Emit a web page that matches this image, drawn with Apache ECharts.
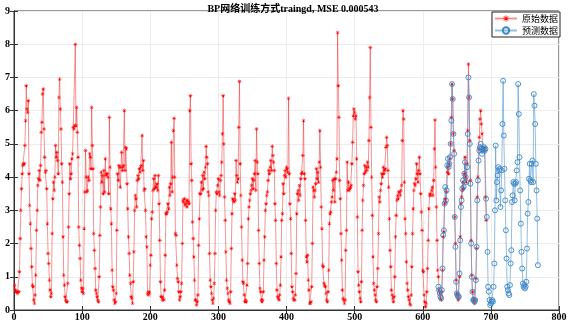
<!DOCTYPE html>
<html><head><meta charset="utf-8">
<script src="https://cdn.jsdelivr.net/npm/echarts@6/dist/echarts.min.js"></script>
<style>html,body{margin:0;padding:0;background:#fff}#c{width:570px;height:322px}</style>
</head><body><div id="c"></div>
<script>
const titleText = 'BP网络训练方式traingd, MSE 0.000543';
const seriesNames = ['原始数据', '预测数据'];
const xTicks = [0, 100, 200, 300, 400, 500, 600, 700, 800];
const yTicks = [0, 1, 2, 3, 4, 5, 6, 7, 8, 9];
// original data, x = 1..693
const redY = [
0.75,0.6,0.55,0.55,0.5,0.55,0.55,1.15,2.15,3.0,3.65,4.1,4.35,4.4,4.4,4.95,5.7,6.75,6.05,5.95,6.3,4.1,3.15,2.6,
1.85,1.3,0.75,0.7,0.3,0.2,0.45,1.05,2.4,3.0,3.75,3.95,4.2,3.9,4.35,5.35,5.65,6.5,6.65,5.45,4.6,4.15,4.2,3.65,
2.6,1.7,1.4,0.9,0.6,0.4,0.5,2.3,3.35,3.85,3.6,4.0,4.95,4.6,4.75,4.5,4.1,6.4,6.95,6.05,5.45,4.4,3.85,2.2,
1.05,0.75,0.4,0.3,0.25,0.25,0.8,2.5,3.5,4.4,3.95,4.1,4.55,4.7,5.5,5.45,5.55,8.0,5.55,6.1,5.35,4.6,2.5,1.95,
1.55,0.9,0.65,0.55,0.65,0.5,2.45,3.55,4.8,4.0,3.55,3.6,4.0,3.9,4.7,4.6,4.25,6.1,4.95,4.25,2.3,1.8,1.25,0.6,
0.5,0.4,0.3,0.25,1.0,2.25,3.1,4.15,3.85,4.05,3.5,4.2,3.55,4.55,4.05,4.1,4.1,4.0,3.5,5.8,4.3,3.05,2.6,1.2,
0.7,0.6,0.3,0.2,0.25,0.5,2.4,4.1,3.9,4.35,4.3,3.7,4.3,4.75,4.2,4.3,4.35,6.0,4.2,4.9,4.85,3.8,3.05,2.2,
1.7,1.05,0.8,0.4,0.35,0.2,0.85,1.75,3.0,3.45,3.35,3.1,3.9,4.05,3.95,4.25,4.15,4.3,4.35,5.25,4.2,4.5,3.6,3.65,
3.0,2.2,1.9,0.5,0.45,0.55,0.5,1.35,1.65,2.75,2.95,3.6,3.95,3.65,4.05,3.7,3.7,3.8,3.6,4.05,3.2,2.1,0.85,0.4,
0.4,0.3,0.35,0.3,0.6,1.65,2.9,2.9,2.95,3.2,3.05,3.7,3.45,3.8,5.05,3.55,4.0,5.4,5.77,4.0,2.3,2.25,1.35,0.95,
0.85,0.55,0.3,0.4,0.55,0.8,2.0,3.3,3.25,3.35,3.15,3.2,3.3,3.1,3.3,3.25,3.2,6.0,6.45,4.4,3.9,2.65,2.15,1.6,
0.9,0.3,0.3,0.15,0.25,0.45,1.95,2.75,3.5,3.5,3.85,3.6,4.05,3.65,4.15,3.95,4.3,4.93,4.6,4.4,3.55,3.45,1.7,0.9,
0.7,0.5,0.3,0.2,0.35,0.8,1.7,3.0,3.55,3.5,3.75,3.95,3.55,3.45,3.9,4.05,4.45,5.3,6.45,5.0,3.4,2.7,1.75,0.9,
0.65,0.5,0.3,0.25,0.2,0.55,1.85,2.9,3.35,3.3,3.25,3.5,3.3,4.5,4.05,3.85,3.95,5.5,6.88,4.4,3.45,2.5,1.5,0.85,
0.8,0.45,0.25,0.3,0.25,0.75,1.4,2.75,3.1,3.3,3.5,3.6,3.75,3.95,3.65,3.9,4.1,4.5,3.6,5.45,4.45,4.1,2.4,1.4,
0.65,0.55,0.3,0.25,0.3,0.55,1.5,2.2,3.0,3.2,3.45,3.55,3.9,4.2,4.1,4.3,4.5,4.2,4.93,4.65,4.45,4.2,3.2,2.7,
1.4,0.6,0.4,0.35,0.3,0.45,0.75,1.6,2.7,2.9,3.8,3.5,4.05,4.2,4.0,4.3,4.25,4.15,6.37,4.1,3.2,2.75,1.7,0.7,
0.55,0.35,0.3,0.3,0.45,1.1,2.9,3.5,3.6,3.3,3.75,3.45,3.95,4.1,4.15,4.65,5.7,4.1,3.95,2.7,1.6,1.45,1.65,0.9,
0.6,0.2,0.2,0.25,0.7,2.0,3.7,3.6,3.4,3.6,3.8,4.25,3.95,4.15,3.85,4.45,5.4,4.3,3.1,2.45,1.35,1.3,0.8,0.75,
0.7,0.5,0.3,0.25,0.55,1.2,2.6,2.9,2.95,3.25,3.4,3.9,3.6,3.95,3.25,3.95,4.15,4.55,8.35,6.75,5.8,3.9,3.35,2.3,
1.5,0.6,0.35,0.3,0.2,0.3,1.8,2.4,4.45,3.6,3.85,3.6,3.65,3.7,3.75,4.4,5.05,5.85,6.05,5.95,5.75,5.85,4.55,2.8,
1.15,0.75,0.55,0.35,0.25,0.85,2.4,3.3,3.75,4.1,4.35,4.15,4.3,4.2,4.45,4.3,5.1,6.4,7.9,5.5,4.0,2.85,1.6,0.8,
0.6,0.45,0.3,0.25,0.7,1.25,2.3,3.4,3.25,3.6,3.8,4.1,4.0,4.3,4.1,4.2,4.25,4.9,5.2,4.95,4.2,3.7,2.75,1.8,
1.3,0.6,0.45,0.35,0.25,0.4,1.0,2.2,2.85,3.3,3.45,3.35,3.55,3.55,3.45,3.6,3.75,5.1,6.0,5.75,3.85,2.75,2.3,1.45,
0.8,0.6,0.4,0.3,0.2,0.15,0.45,1.3,2.3,3.05,3.6,3.8,3.75,3.95,4.4,4.1,3.85,4.2,4.6,4.1,3.5,2.95,2.4,1.2,
1.15,0.45,0.25,0.1,0.2,0.55,1.25,2.1,3.05,3.45,3.5,3.45,3.6,3.7,3.45,3.9,4.85,5.72,4.3,3.1,2.1,1.2,1.0,0.6,
0.5,0.35,0.3,0.55,1.2,2.2,2.35,3.2,3.35,3.25,3.55,4.15,4.3,4.1,4.4,4.55,5.0,5.8,6.8,6.35,5.3,4.8,2.8,2.0,
0.9,0.5,0.45,0.3,0.35,1.0,2.2,3.2,3.4,3.6,3.85,3.65,4.1,4.6,4.0,3.85,4.4,5.4,7.4,6.4,5.1,3.9,2.1,1.05,
0.55,0.35,0.25,0.2,0.3,0.95,1.85,3.4,4.0,4.85,5.2,5.75,6.0,5.6,5.3,4.8,4.85,4.9,4.8,3.4,2.7
];
// predicted data, x = 623..769
const blueStartX = 623;
const blueY = [
0.7,0.6,
0.5,0.4,0.35,0.6,1.25,2.25,2.4,3.2,3.7,3.3,3.6,4.35,4.55,4.3,4.4,4.6,5.0,5.7,6.8,6.35,5.3,4.7,2.8,1.9,
0.85,0.5,0.45,0.4,0.4,1.1,2.1,3.1,3.3,3.65,3.9,3.7,4.1,4.45,4.0,3.85,4.3,5.3,7.0,6.4,5.0,3.8,2.0,1.0,
0.55,0.3,0.3,0.25,0.3,0.9,1.9,3.3,3.9,4.5,4.8,4.9,5.0,4.85,4.7,4.8,4.85,4.9,4.8,4.85,3.35,
2.8,1.75,0.7,0.55,0.3,0.15,0.2,0.25,0.3,0.25,
0.7,1.4,3.0,4.95,3.3,3.85,4.05,4.3,4.2,4.25,
3.1,3.6,4.2,5.6,6.9,5.25,4.25,3.3,2.4,1.55,
0.7,0.6,0.5,0.45,
0.75,1.4,1.8,3.25,3.45,3.85,3.8,3.3,3.8,3.85,
4.2,4.45,6.8,5.9,4.6,3.6,2.6,1.75,1.25,0.8,
0.7,0.75,0.65,0.7,0.85,1.85,2.9,3.25,3.95,4.4,
3.9,3.85,4.4,4.5,3.85,6.5,6.15,5.6,4.4,3.6,
2.75,1.35
];

const redData = redY.map((v, i) => [i + 1, v]);
const blueData = blueY.map((v, i) => [blueStartX + i, v]);

const serif = "'Liberation Serif','Noto Sans CJK SC',serif";
const labelStyle = {fontFamily: serif, fontWeight: 'bold', fontSize: 10, color: '#000'};
const axisCol = '#333';
const starPath = 'path://M4.5,0h1v10h-1z M0,4.5h10v1h-10z M1.1,1.8l0.7,-0.7l7.1,7.1l-0.7,0.7z M8.2,1.1l0.7,0.7l-7.1,7.1l-0.7,-0.7z';

const chart = echarts.init(document.getElementById('c'), null, {renderer: 'canvas'});
chart.setOption({
  animation: false,
  backgroundColor: '#fff',
  title: {
    text: titleText, left: 288, textAlign: 'center', top: -1,
    textStyle: {fontFamily: serif, fontWeight: 'bold', fontSize: 10, color: '#000'}
  },
  legend: {
    orient: 'vertical', right: 10, top: 12,
    backgroundColor: '#fff', borderColor: '#222', borderWidth: 1,
    padding: [2, 2, 2, 2], itemGap: 3, itemWidth: 22, itemHeight: 8,
    textStyle: {fontFamily: "'Noto Sans CJK SC',serif", fontSize: 9, color: '#000'},
    data: seriesNames
  },
  grid: {left: 14, right: 11, top: 11, bottom: 10, show: true, borderColor: axisCol, borderWidth: 1, containLabel: false},
  xAxis: [{
    type: 'value', min: xTicks[0], max: xTicks[xTicks.length - 1], interval: 100,
    axisLine: {show: true, onZero: false, lineStyle: {color: axisCol}},
    axisTick: {show: true, inside: true, length: 4, lineStyle: {color: axisCol}},
    axisLabel: Object.assign({margin: 2}, labelStyle),
    splitLine: {show: true, lineStyle: {color: '#ececec', width: 1}}
  }, {
    type: 'value', position: 'top', min: 0, max: 800, interval: 100,
    axisLine: {show: true, lineStyle: {color: axisCol}},
    axisTick: {show: true, inside: true, length: 4, lineStyle: {color: axisCol}},
    axisLabel: {show: false}, splitLine: {show: false}
  }],
  yAxis: [{
    type: 'value', min: yTicks[0], max: yTicks[yTicks.length - 1], interval: 1,
    axisLine: {show: true, onZero: false, lineStyle: {color: axisCol}},
    axisTick: {show: true, inside: true, length: 4, lineStyle: {color: axisCol}},
    axisLabel: Object.assign({margin: 4}, labelStyle),
    splitLine: {show: true, lineStyle: {color: '#ececec', width: 1}}
  }, {
    type: 'value', position: 'right', min: 0, max: 9, interval: 1,
    axisLine: {show: true, lineStyle: {color: axisCol}},
    axisTick: {show: true, inside: true, length: 4, lineStyle: {color: axisCol}},
    axisLabel: {show: false}, splitLine: {show: false}
  }],
  series: [{
    name: seriesNames[0], type: 'line', data: redData,
    symbol: starPath, symbolSize: 4, showSymbol: true, showAllSymbol: true,
    itemStyle: {color: '#ff0000'},
    lineStyle: {color: 'rgba(235,40,40,0.5)', width: 1},
    emphasis: {disabled: true}
  }, {
    name: seriesNames[1], type: 'line', data: blueData,
    symbol: 'circle', symbolSize: 5, showSymbol: true, showAllSymbol: true,
    itemStyle: {color: 'rgba(255,255,255,0)', borderColor: '#3b87c7', borderWidth: 0.9},
    lineStyle: {color: 'rgba(90,155,210,0.65)', width: 1},
    emphasis: {disabled: true}
  }]
});
</script>
</body></html>
